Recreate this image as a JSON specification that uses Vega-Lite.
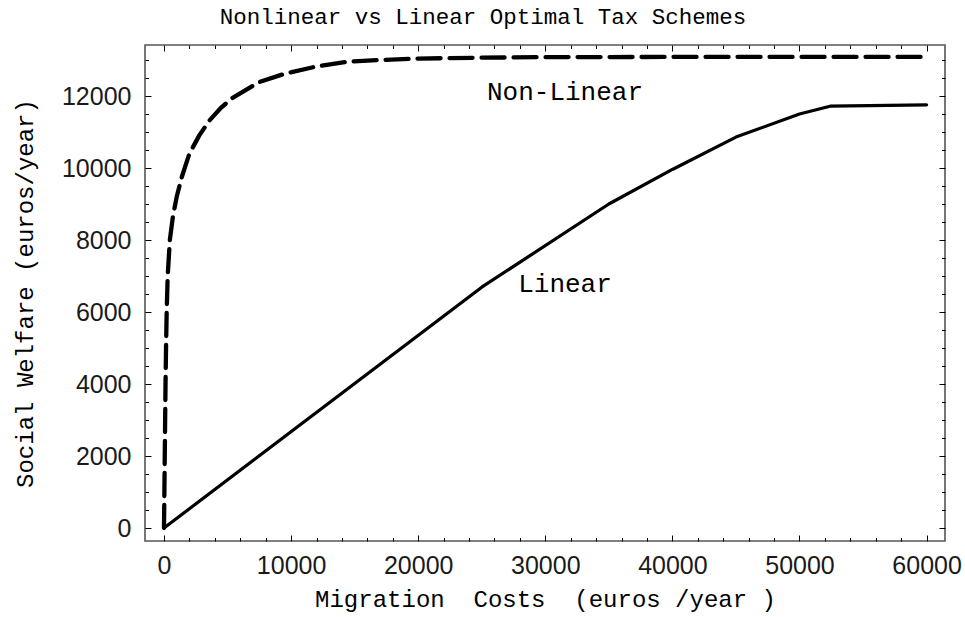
{
  "$schema": "https://vega.github.io/schema/vega-lite/v6.json",
  "width": 800,
  "height": 496,
  "autosize": {"type": "none"},
  "padding": {"left": 145, "top": 45, "right": 20, "bottom": 76},
  "background": "white",
  "title": {
    "text": "Nonlinear vs Linear Optimal Tax Schemes",
    "font": "Liberation Mono",
    "fontSize": 22.5,
    "fontWeight": "normal",
    "color": "#000",
    "anchor": "middle",
    "dx": -62,
    "offset": 16
  },
  "datasets": {
    "curves": [
      {"series": "Non-Linear", "x": 0, "y": 0},
      {"series": "Non-Linear", "x": 30, "y": 1000},
      {"series": "Non-Linear", "x": 60, "y": 2000},
      {"series": "Non-Linear", "x": 90, "y": 3000},
      {"series": "Non-Linear", "x": 120, "y": 4000},
      {"series": "Non-Linear", "x": 160, "y": 5000},
      {"series": "Non-Linear", "x": 210, "y": 6000},
      {"series": "Non-Linear", "x": 290, "y": 7000},
      {"series": "Non-Linear", "x": 460, "y": 8000},
      {"series": "Non-Linear", "x": 700, "y": 8650},
      {"series": "Non-Linear", "x": 1000, "y": 9200},
      {"series": "Non-Linear", "x": 1400, "y": 9750},
      {"series": "Non-Linear", "x": 2000, "y": 10400},
      {"series": "Non-Linear", "x": 2800, "y": 10920},
      {"series": "Non-Linear", "x": 3600, "y": 11330},
      {"series": "Non-Linear", "x": 4500, "y": 11680},
      {"series": "Non-Linear", "x": 5400, "y": 11950},
      {"series": "Non-Linear", "x": 7500, "y": 12390},
      {"series": "Non-Linear", "x": 9600, "y": 12630},
      {"series": "Non-Linear", "x": 12000, "y": 12820},
      {"series": "Non-Linear", "x": 14400, "y": 12950},
      {"series": "Non-Linear", "x": 17000, "y": 13000},
      {"series": "Non-Linear", "x": 20000, "y": 13040},
      {"series": "Non-Linear", "x": 25000, "y": 13065},
      {"series": "Non-Linear", "x": 30000, "y": 13080},
      {"series": "Non-Linear", "x": 40000, "y": 13085},
      {"series": "Non-Linear", "x": 50000, "y": 13085},
      {"series": "Non-Linear", "x": 60000, "y": 13085},
      {"series": "Linear", "x": 0, "y": 0},
      {"series": "Linear", "x": 25000, "y": 6690},
      {"series": "Linear", "x": 35000, "y": 9000},
      {"series": "Linear", "x": 40000, "y": 9960},
      {"series": "Linear", "x": 45000, "y": 10860},
      {"series": "Linear", "x": 50000, "y": 11500},
      {"series": "Linear", "x": 52400, "y": 11717},
      {"series": "Linear", "x": 60000, "y": 11756}
    ],
    "labels": [
      {"label": "Non-Linear", "x": 31550, "y": 12110},
      {"label": "Linear", "x": 31550, "y": 6780}
    ]
  },
  "resolve": {"axis": {"x": "independent", "y": "independent"}},
  "layer": [
    {
      "data": {"name": "curves"},
      "transform": [{"filter": "datum.series === 'Non-Linear'"}],
      "mark": {"type": "line", "color": "#000", "strokeWidth": 4.3, "strokeDash": [23, 9], "strokeCap": "round", "strokeJoin": "round", "clip": true},
      "encoding": {
        "x": {
          "field": "x", "type": "quantitative",
          "scale": {"domain": [-1495, 61448], "nice": false, "zero": false},
          "axis": {
            "orient": "bottom",
            "values": [0, 10000, 20000, 30000, 40000, 50000, 60000],
            "format": "d",
            "tickSize": -6,
            "labelPadding": 18,
            "title": "Migration\u00a0\u00a0Costs\u00a0\u00a0(euros /year )",
            "titleFontSize": 24,
            "titlePadding": 9
          }
        },
        "y": {
          "field": "y", "type": "quantitative",
          "scale": {"domain": [-361, 13417], "nice": false, "zero": false},
          "axis": {
            "orient": "left",
            "values": [0, 2000, 4000, 6000, 8000, 10000, 12000],
            "format": "d",
            "tickSize": -6,
            "labelPadding": 20,
            "title": "Social Welfare (euros/year)",
            "titleFontSize": 24,
            "titlePadding": 24
          }
        },
        "order": {"field": "x"}
      }
    },
    {
      "data": {"name": "curves"},
      "transform": [{"filter": "datum.series === 'Linear'"}],
      "mark": {"type": "line", "color": "#000", "strokeWidth": 3.2, "strokeCap": "round", "strokeJoin": "round", "clip": true},
      "encoding": {
        "x": {
          "field": "x", "type": "quantitative",
          "scale": {"domain": [-1495, 61448], "nice": false, "zero": false},
          "axis": {
            "orient": "bottom",
            "values": [2000, 4000, 6000, 8000, 12000, 14000, 16000, 18000, 22000, 24000, 26000, 28000, 32000, 34000, 36000, 38000, 42000, 44000, 46000, 48000, 52000, 54000, 56000, 58000],
            "tickSize": -3.5,
            "labels": false,
            "title": null
          }
        },
        "y": {
          "field": "y", "type": "quantitative",
          "scale": {"domain": [-361, 13417], "nice": false, "zero": false},
          "axis": {
            "orient": "left",
            "values": [500, 1000, 1500, 2500, 3000, 3500, 4500, 5000, 5500, 6500, 7000, 7500, 8500, 9000, 9500, 10500, 11000, 11500, 12500, 13000],
            "tickSize": -3.5,
            "labels": false,
            "title": null
          }
        },
        "order": {"field": "x"}
      }
    },
    {
      "data": {"name": "labels"},
      "transform": [{"filter": "datum.label === 'Non-Linear'"}],
      "mark": {"type": "text", "font": "Liberation Mono", "fontSize": 26, "color": "#000", "align": "center", "baseline": "middle"},
      "encoding": {
        "x": {
          "field": "x", "type": "quantitative",
          "scale": {"domain": [-1495, 61448], "nice": false, "zero": false},
          "axis": {
            "orient": "top",
            "values": [0, 10000, 20000, 30000, 40000, 50000, 60000],
            "tickSize": -6,
            "labels": false,
            "title": null
          }
        },
        "y": {
          "field": "y", "type": "quantitative",
          "scale": {"domain": [-361, 13417], "nice": false, "zero": false},
          "axis": {
            "orient": "right",
            "values": [0, 2000, 4000, 6000, 8000, 10000, 12000],
            "tickSize": -6,
            "labels": false,
            "title": null
          }
        },
        "text": {"field": "label"}
      }
    },
    {
      "data": {"name": "labels"},
      "transform": [{"filter": "datum.label === 'Linear'"}],
      "mark": {"type": "text", "font": "Liberation Mono", "fontSize": 26, "color": "#000", "align": "center", "baseline": "middle"},
      "encoding": {
        "x": {
          "field": "x", "type": "quantitative",
          "scale": {"domain": [-1495, 61448], "nice": false, "zero": false},
          "axis": {
            "orient": "top",
            "values": [2000, 4000, 6000, 8000, 12000, 14000, 16000, 18000, 22000, 24000, 26000, 28000, 32000, 34000, 36000, 38000, 42000, 44000, 46000, 48000, 52000, 54000, 56000, 58000],
            "tickSize": -3.5,
            "labels": false,
            "title": null
          }
        },
        "y": {
          "field": "y", "type": "quantitative",
          "scale": {"domain": [-361, 13417], "nice": false, "zero": false},
          "axis": {
            "orient": "right",
            "values": [500, 1000, 1500, 2500, 3000, 3500, 4500, 5000, 5500, 6500, 7000, 7500, 8500, 9000, 9500, 10500, 11000, 11500, 12500, 13000],
            "tickSize": -3.5,
            "labels": false,
            "title": null
          }
        },
        "text": {"field": "label"}
      }
    }
  ],
  "config": {
    "view": {"stroke": "#555", "strokeWidth": 1.6},
    "axis": {
      "domain": false,
      "grid": false,
      "ticks": true,
      "tickColor": "#000",
      "tickWidth": 1,
      "labelFont": "Liberation Sans",
      "labelFontSize": 25,
      "labelColor": "#1a1a1a",
      "labelFlush": false,
      "labelOverlap": false,
      "titleFont": "Liberation Mono",
      "titleFontWeight": "normal",
      "titleColor": "#000"
    }
  }
}
